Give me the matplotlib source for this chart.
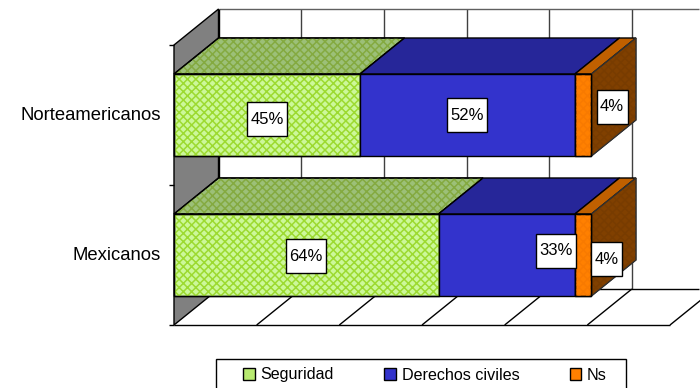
import matplotlib
matplotlib.use("Agg")
import matplotlib.pyplot as plt
from matplotlib.patches import Polygon, Rectangle
from matplotlib.lines import Line2D

plt.rcParams['font.family'] = 'Liberation Sans'
plt.rcParams['hatch.linewidth'] = 1.1

# Data
categories = ['Mexicanos', 'Norteamericanos']
series = ['Seguridad', 'Derechos civiles', 'Ns']
seguridad = [64, 45]
derechos = [33, 52]
ns = [4, 4]
x_ticks = [0, 20, 40, 60, 80, 100, 120]

# Colours: front, top, side, hatch on front, hatch on top, hatch on side
front_cols = ['#ccf89a', '#3333cc', '#ff8000']
top_cols = ['#9cc078', '#262699', '#c06000']
side_cols = ['#9cc078', '#262699', '#804000']
hatch_front = ['#9cda30', None, '#f87a00']
hatch_top = ['#84aa40', None, None]
hatch_side = [None, None, '#783c00']

# depth of the 3d box in data units, and bar thickness
DX = 10.77
DY = 0.257
BAR_H = 0.586

fig = plt.figure(figsize=(7, 3.88), dpi=100)
ax = fig.add_axes([174 / 700, 63 / 388, 496 / 700, 280 / 388])
ax.set_xlim(0, 120)
ax.set_ylim(0, 2)
ax.axis('off')


def poly(pts, fc, hc=None, lw=1.0, ec='black', z=2):
    ax.add_patch(Polygon(pts, closed=True, fc=fc, ec=ec, lw=lw, zorder=z,
                         clip_on=False, joinstyle='miter'))
    if hc is not None:
        ax.add_patch(Polygon(pts, closed=True, fc='none', ec=hc, lw=0, hatch='xxxx',
                             zorder=z, clip_on=False))
        ax.add_patch(Polygon(pts, closed=True, fc='none', ec=ec, lw=lw, zorder=z,
                             clip_on=False, joinstyle='miter'))


def line(xs, ys, color='black', lw=1.0, z=1):
    ax.add_line(Line2D(xs, ys, color=color, lw=lw, zorder=z, clip_on=False,
                       solid_capstyle='butt'))


# back wall, left wall and floor
poly([(0, 0), (DX, DY), (DX, 2 + DY), (0, 2)], '#808080', z=1)
for t in x_ticks[1:]:
    line([t + DX, t + DX], [DY, 2 + DY], color='#404040')
    line([t, t + DX], [0, DY])
line([0, 120], [0, 0])
line([DX, 127], [DY, DY])
line([DX, 127], [2 + DY, 2 + DY], color='#606060')
line([DX, DX], [DY, 2 + DY])
for y in [0, 1, 2]:
    line([-1.2, 0], [y, y])

# bars, back to front
for i in [1, 0]:
    y0 = i + 0.5 - BAR_H / 2
    y1 = i + 0.5 + BAR_H / 2
    left = 0
    for j, vals in enumerate([seguridad, derechos, ns]):
        right = left + vals[i]
        poly([(left, y1), (right, y1), (right + DX, y1 + DY), (left + DX, y1 + DY)],
             top_cols[j], hatch_top[j])
        poly([(left, y0), (right, y0), (right, y1), (left, y1)], front_cols[j], hatch_front[j], z=3)
        left = right
    poly([(left, y0), (left + DX, y0 + DY), (left + DX, y1 + DY), (left, y1)],
         side_cols[2], hatch_side[2], lw=0.8, ec='#303030')

# value labels, nudged by hand as in the original
label_x = [[64 / 2, 64 + 33 - 4.6, 101 + 3.6], [45 / 2, 45 + 26, 101 + 5]]
label_y = [[0.49, 0.53, 0.47], [1.47, 1.5, 1.56]]
for i in range(2):
    vals = [seguridad[i], derechos[i], ns[i]]
    for j in range(3):
        txt = '%d%%' % vals[j]
        w = 9.68 if vals[j] >= 10 else 7.5
        x = label_x[i][j]
        y = label_y[i][j]
        ax.add_patch(Rectangle((x - w / 2, y - 0.1215), w, 0.243, fc='white', ec='black',
                               lw=1.0, zorder=5, clip_on=False))
        ax.text(x, y, txt, ha='center', va='center', fontsize=12, color='black', zorder=6)

# category labels
for i, c in enumerate(categories):
    ax.text(-3.2, i + 0.5, c, ha='right', va='center', fontsize=13.3, color='black')

# legend: the frame runs off the bottom of the picture in the original
fig.add_artist(Rectangle((216 / 700, -10 / 388), 410 / 700, 39 / 388,
                         transform=fig.transFigure, fc='white', ec='black', lw=1.0))
swatch_cols = ['#b8ea70', '#3333cc', '#ff8000']
handles = [Rectangle((0, 0), 1, 1, fc=swatch_cols[j], ec='black', lw=1.0) for j in range(3)]
leg = fig.legend(handles, series, loc='center left', bbox_to_anchor=(240 / 700, 1 - 375 / 388),
                 ncols=3, frameon=False, fontsize=11.6, handlelength=0.7, handleheight=0.7,
                 handletextpad=0.38, columnspacing=3.12, borderaxespad=0, borderpad=0.2)

fig.savefig('out.png', dpi=100)
